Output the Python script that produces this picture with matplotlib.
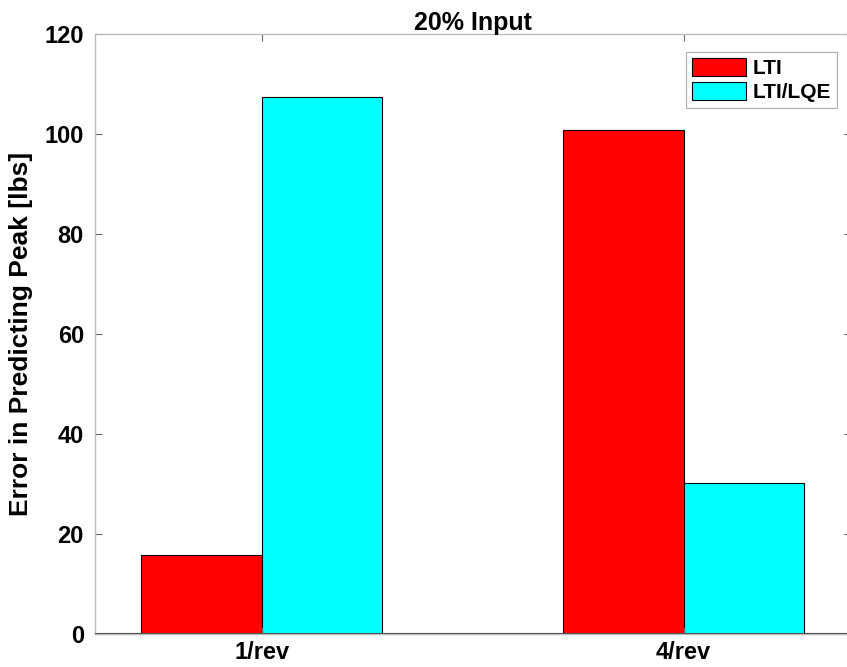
import numpy as np
import matplotlib
matplotlib.use('Agg')
import matplotlib.pyplot as plt

plt.rcParams['font.family'] = ['Liberation Sans', 'DejaVu Sans']
plt.rcParams['font.weight'] = 'bold'

categories = ['1/rev', '4/rev']
lti = [15.8, 100.9]
lti_lqe = [107.4, 30.1]

fig = plt.figure(figsize=(8.47, 6.67), dpi=100)
ax = fig.add_axes([0.1122, 0.0495, 0.893, 0.8995])

x = np.arange(1, len(categories) + 1)
w = 0.285
ax.bar(x - w / 2, lti, w, color='#ff0000', edgecolor='black', linewidth=0.8, label='LTI')
ax.bar(x + w / 2, lti_lqe, w, color='#00ffff', edgecolor='black', linewidth=0.8, label='LTI/LQE')
ax.axhline(0, color='#555555', linewidth=1.5, zorder=3)

ax.set_xlim(0.605, 2.398)
ax.set_ylim(0, 120)
ax.set_xticks(x)
ax.set_xticklabels(categories)
ax.set_yticks(np.arange(0, 121, 20))
ax.tick_params(direction='in', length=5, color='#666666', labelsize=17, width=0.8,
               top=True, right=True)
ax.tick_params(axis='y', pad=8)
ax.tick_params(axis='x', pad=5)
for s in ax.spines.values():
    s.set_color('#bbbbbb')
    s.set_linewidth(1.0)

ax.set_ylabel('Error in Predicting Peak [lbs]', fontsize=19, fontweight='bold', labelpad=8)
ax.set_title('20% Input', fontsize=18, fontweight='bold', pad=3)

leg = ax.legend(loc='upper right', bbox_to_anchor=(0.981, 0.97), fontsize=15, frameon=True,
                fancybox=False, edgecolor='#999999', handlelength=2.6, handleheight=0.95,
                handletextpad=0.3, borderpad=0.3, labelspacing=0.15, borderaxespad=0)
leg.get_frame().set_linewidth(0.8)

fig.savefig('out.png', dpi=100)
